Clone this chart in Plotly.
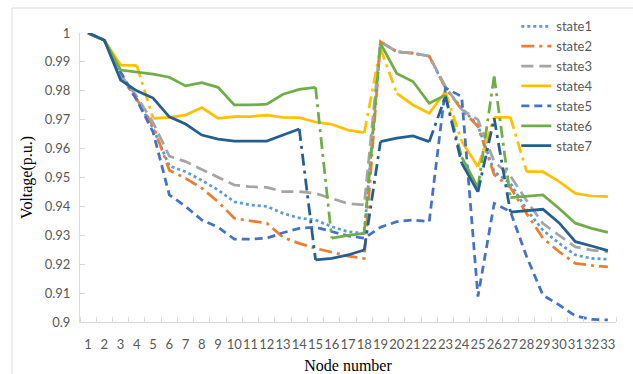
import plotly.graph_objects as go

nodes = list(range(1, 34))
node_labels = [str(n) for n in nodes]

state1 = [1.0, 0.9975, 0.9855, 0.977, 0.967, 0.954, 0.952, 0.949, 0.9457, 0.9416,
          0.9405, 0.940, 0.9376, 0.936, 0.9353, 0.933, 0.9312, 0.9307, 0.997, 0.9935,
          0.993, 0.992, 0.981, 0.974, 0.968, 0.952, 0.948, 0.9388, 0.9318, 0.9272,
          0.9232, 0.922, 0.9217]
state2 = [1.0, 0.9975, 0.985, 0.977, 0.968, 0.9525, 0.9497, 0.9463, 0.9416, 0.9359,
          0.935, 0.9342, 0.9293, 0.9272, 0.9255, 0.9241, 0.9228, 0.922, 0.997, 0.9935,
          0.993, 0.992, 0.981, 0.9735, 0.9676, 0.951, 0.9465, 0.9375, 0.929, 0.9243,
          0.9203, 0.9196, 0.9191]
state3 = [1.0, 0.9975, 0.9855, 0.978, 0.969, 0.9574, 0.9555, 0.9528, 0.950, 0.9474,
          0.9468, 0.9466, 0.9451, 0.9451, 0.9445, 0.9428, 0.941, 0.9405, 0.997, 0.9935,
          0.993, 0.992, 0.9815, 0.9735, 0.970, 0.9555, 0.9505, 0.942, 0.9341, 0.930,
          0.926, 0.9249, 0.9243]
state4 = [1.0, 0.9975, 0.9889, 0.9887, 0.9705, 0.9708, 0.9716, 0.9742, 0.9705, 0.9711,
          0.9711, 0.9716, 0.9708, 0.9707, 0.9692, 0.9684, 0.9664, 0.9655, 0.9947, 0.9791,
          0.9751, 0.9722, 0.9797, 0.9625, 0.9537, 0.9708, 0.9708, 0.952, 0.952, 0.9486,
          0.9445, 0.9436, 0.9434]
state5 = [1.0, 0.9975, 0.9865, 0.9768, 0.9657, 0.944, 0.940, 0.9353, 0.9328, 0.9287,
          0.9287, 0.929, 0.9309, 0.9324, 0.9328, 0.9312, 0.9298, 0.929, 0.9328, 0.9347,
          0.9353, 0.9347, 0.981, 0.978, 0.9088, 0.941, 0.9382, 0.9226, 0.9093, 0.9059,
          0.9021, 0.9009, 0.9007]
state6 = [1.0, 0.9975, 0.9872, 0.9866, 0.9858, 0.9847, 0.9817, 0.9828, 0.9812, 0.9751,
          0.9751, 0.9754, 0.9788, 0.9805, 0.9812, 0.929, 0.930, 0.9307, 0.9964, 0.986,
          0.9832, 0.9757, 0.9785, 0.957, 0.9465, 0.985, 0.943, 0.9435, 0.944, 0.9393,
          0.9342, 0.9324, 0.931]
state7 = [1.0, 0.9975, 0.9837, 0.980, 0.9775, 0.971, 0.9685, 0.9647, 0.9633, 0.9626,
          0.9626, 0.9626, 0.9647, 0.9668, 0.9215, 0.922, 0.9232, 0.9249, 0.9624, 0.9636,
          0.9644, 0.9624, 0.978, 0.955, 0.945, 0.9705, 0.938, 0.9385, 0.939, 0.9343,
          0.9278, 0.9263, 0.9247]

y_ticks = [0.9, 0.91, 0.92, 0.93, 0.94, 0.95, 0.96, 0.97, 0.98, 0.99, 1.0]
y_tick_labels = ["0.9", "0.91", "0.92", "0.93", "0.94", "0.95", "0.96", "0.97", "0.98", "0.99", "1"]

series = [
    ("state1", state1, "#5B9BD5", "3px,3px", False),
    ("state2", state2, "#ED7D31", "13px,5px,3px,5px", False),
    ("state3", state3, "#A5A5A5", "12px,6px", False),
    ("state4", state4, "#FFC000", "solid", True),
    ("state5", state5, "#4472C4", "8px,5px", False),
    ("state6", state6, "#70AD47", "solid", True),
    ("state7", state7, "#255E91", "solid", True),
]

STEEP = 0.015
fig = go.Figure()
for name, vals, color, dash, solid in series:
    if not solid:
        fig.add_trace(go.Scatter(x=nodes, y=vals, mode="lines", name=name, legendgroup=name,
                                 line=dict(color=color, width=2.75, dash=dash)))
        continue
    xs, ys, sx, sy = [], [], [], []
    for i in range(len(nodes)):
        xs.append(nodes[i]); ys.append(vals[i])
        if i < len(nodes) - 1 and abs(vals[i + 1] - vals[i]) >= STEEP:
            xs.append(nodes[i] + 0.5); ys.append(None)
            sx += [nodes[i], nodes[i + 1], None]
            sy += [vals[i], vals[i + 1], None]
    fig.add_trace(go.Scatter(x=xs, y=ys, mode="lines", name=name, legendgroup=name,
                             connectgaps=False, line=dict(color=color, width=2.75)))
    fig.add_trace(go.Scatter(x=sx, y=sy, mode="lines", name=name, legendgroup=name,
                             showlegend=False, connectgaps=False,
                             line=dict(color=color, width=2.75, dash="12px,5px,3px,5px")))

tick_font = dict(family="Lato", size=13, color="#595959")
fig.update_layout(
    width=633, height=374,
    margin=dict(l=80, r=17, t=33, b=52, autoexpand=False),
    paper_bgcolor="white", plot_bgcolor="white",
    showlegend=True,
    legend=dict(x=0.814, y=1.075, xanchor="left", yanchor="top", bgcolor="rgba(255,255,255,0)",
                font=dict(family="Lato", size=13, color="#595959"), tracegroupgap=0),
    xaxis=dict(range=[0.5, 33.5], tickvals=nodes, ticktext=node_labels, ticks="", tickangle=0,
               automargin=False,
               showline=True, linecolor="#D9D9D9", linewidth=1, showgrid=False, zeroline=False,
               tickfont=tick_font, ticklabelstandoff=10,
               minor=dict(tick0=0.5, dtick=1, ticks="inside", ticklen=5, tickcolor="#D9D9D9"),
               title=dict(text="Node number", standoff=16,
                          font=dict(family="Liberation Serif", size=16, color="black"))),
    yaxis=dict(range=[0.9, 1.0], tickvals=y_ticks, ticktext=y_tick_labels, ticks="inside",
               automargin=False,
               ticklen=5, tickcolor="#D9D9D9", showline=True, linecolor="#D9D9D9", linewidth=1,
               showgrid=False, zeroline=False, tickfont=tick_font, ticklabelstandoff=6,
               title=dict(text="Voltage(p.u.)", standoff=8,
                          font=dict(family="Liberation Serif", size=16, color="black"))),
    shapes=[
        dict(type="line", xref="paper", yref="paper", x0=-0.1269, x1=1.04, y0=1.0865, y1=1.0865,
             line=dict(color="#D9D9D9", width=1)),
        dict(type="line", xref="paper", yref="paper", x0=-0.1269, x1=-0.1269, y0=1.0865, y1=-0.2,
             line=dict(color="#D9D9D9", width=1)),
    ],
)

fig.write_html("out.html", config={"displayModeBar": False},
               post_script="document.body.style.margin='0';")
